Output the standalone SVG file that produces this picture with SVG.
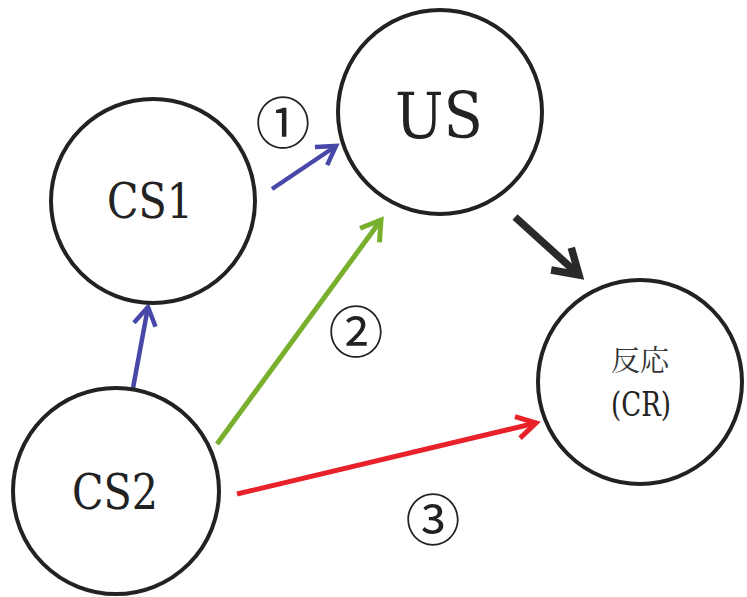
<svg xmlns="http://www.w3.org/2000/svg" width="747" height="597" viewBox="0 0 747 597">
<style>
.node{fill:#fff;stroke:#222;stroke-width:4}
.lbl{font-family:'DejaVu Serif',serif;fill:#222;text-anchor:middle}
.jp{font-family:'Noto Serif CJK JP','Noto Sans CJK JP',serif;fill:#333;text-anchor:middle}
.num{font-family:'Noto Sans CJK JP','DejaVu Sans',sans-serif;fill:#222;text-anchor:middle;font-size:55px}
.c{fill:none;stroke-linecap:butt}
</style>
<defs>
<marker id="hb" markerUnits="userSpaceOnUse" markerWidth="40" markerHeight="40" viewBox="-30 -20 40 40" refX="0" refY="0" orient="auto">
<path d="M-18,-11 L0,0 L-18,11" fill="none" stroke="#4848a8" stroke-width="4.5"/>
</marker>
<marker id="hg" markerUnits="userSpaceOnUse" markerWidth="40" markerHeight="40" viewBox="-30 -20 40 40" refX="0" refY="0" orient="auto">
<path d="M-19,-12 L0,0 L-19,12" fill="none" stroke="#78b02e" stroke-width="5"/>
</marker>
<marker id="hr" markerUnits="userSpaceOnUse" markerWidth="40" markerHeight="40" viewBox="-30 -20 40 40" refX="0" refY="0" orient="auto">
<path d="M-19,-11 L0,0 L-19,11" fill="none" stroke="#e8212b" stroke-width="5"/>
</marker>
<marker id="hk" markerUnits="userSpaceOnUse" markerWidth="50" markerHeight="50" viewBox="-35 -25 50 50" refX="0" refY="0" orient="auto">
<path d="M-24,-15 L0,0 L-24,15" fill="none" stroke="#2a2a2a" stroke-width="7.5"/>
</marker>
</defs>
<rect width="747" height="597" fill="#fff"/>
<g id="connectors">
<line class="c" x1="272" y1="189" x2="336" y2="146" stroke="#4848a8" stroke-width="4.5" marker-end="url(#hb)"/>
<line class="c" x1="133" y1="388" x2="148" y2="307" stroke="#4848a8" stroke-width="4.5" marker-end="url(#hb)"/>
<line class="c" x1="217" y1="444" x2="381" y2="220" stroke="#78b02e" stroke-width="5" marker-end="url(#hg)"/>
<line class="c" x1="515" y1="217" x2="579" y2="275" stroke="#2a2a2a" stroke-width="7.5" marker-end="url(#hk)"/>
<line class="c" x1="237" y1="494" x2="536" y2="423" stroke="#e8212b" stroke-width="5" marker-end="url(#hr)"/>
</g>
<g id="CS1">
<circle class="node" cx="153" cy="201" r="102"/>
<text class="lbl" x="150" y="218" font-size="48" textLength="86" lengthAdjust="spacingAndGlyphs">CS1</text>
</g>
<g id="US">
<circle class="node" cx="440" cy="112" r="102"/>
<text class="lbl" x="439" y="138" font-size="63" textLength="88" lengthAdjust="spacingAndGlyphs">US</text>
</g>
<g id="CS2">
<circle class="node" cx="116" cy="491" r="103"/>
<text class="lbl" x="115" y="509" font-size="48" textLength="86" lengthAdjust="spacingAndGlyphs">CS2</text>
</g>
<g id="CR">
<circle class="node" cx="640" cy="382" r="102"/>
<text class="jp" x="640" y="371" font-size="29">反応</text>
<text class="lbl" x="641" y="416" font-size="33" textLength="60" lengthAdjust="spacingAndGlyphs">(CR)</text>
</g>
<g id="labels">
<text class="num" x="283" y="143">①</text>
<text class="num" x="356" y="352">②</text>
<text class="num" x="433" y="540">③</text>
</g>
</svg>
